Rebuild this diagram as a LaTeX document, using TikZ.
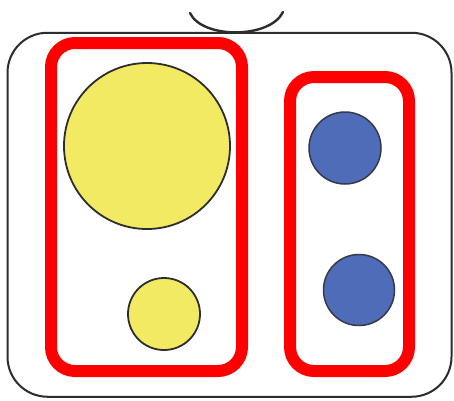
\documentclass[tikz,border=0pt]{standalone}
\usetikzlibrary{shapes.geometric}
\definecolor{ballyellow}{RGB}{242,234,98}
\definecolor{ballblue}{RGB}{78,108,184}
\definecolor{boxred}{RGB}{255,0,0}
\definecolor{inkgray}{RGB}{45,45,45}
\tikzset{
  groupbox/.style={draw=boxred, line width=12pt, rounded corners=24pt, inner sep=0pt, rectangle},
  yball/.style={circle, draw=inkgray, line width=1.8pt, fill=ballyellow, inner sep=0pt},
  bball/.style={circle, draw=inkgray!80!ballblue, line width=1.5pt, fill=ballblue, inner sep=0pt},
  bagline/.style={draw=inkgray, line width=2pt}
}
\begin{document}
\begin{tikzpicture}[x=1pt,y=-1pt]
\useasboundingbox (0,0) rectangle (454,400);
\fill[white] (0,0) rectangle (454,400);
% bag outline and handle
\node[bagline, rectangle, rounded corners=40pt, minimum width=444pt, minimum height=364pt, inner sep=0pt] (bag) at (229.5,214.75) {};
\draw[bagline, line width=2.4pt, line cap=round] (190,13) .. controls (202,39) and (270,39) .. (283,12);
% groups
\node[groupbox, minimum width=191pt, minimum height=328pt] (leftgroup) at (146.5,207) {};
\node[groupbox, minimum width=119pt, minimum height=294pt] (rightgroup) at (349.5,224) {};
% balls
\node[yball, minimum size=166pt] (bigyellow) at (147,146) {};
\node[yball, minimum size=72pt] (smallyellow) at (164,314) {};
\node[bball, minimum size=72pt] (bluetop) at (345,148) {};
\node[bball, minimum size=71pt] (bluebottom) at (359,290) {};
\end{tikzpicture}
\end{document}
